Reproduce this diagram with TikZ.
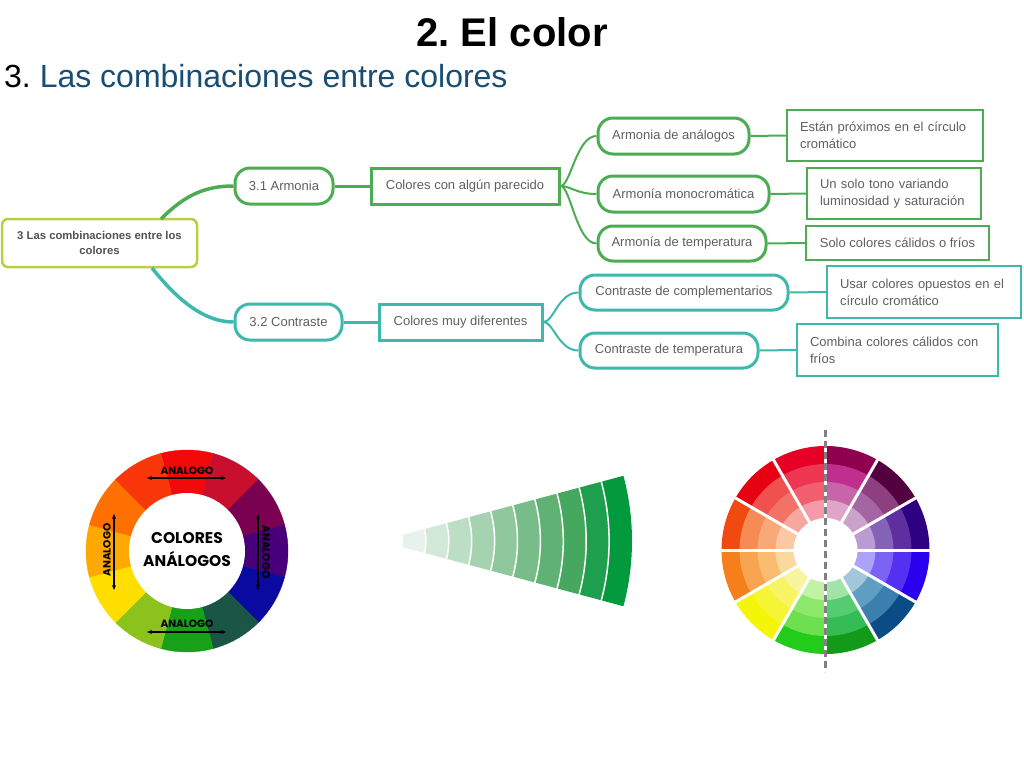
\documentclass[tikz,border=0pt]{standalone}
\usepackage{fontspec}
\setmainfont{Liberation Sans}
\newfontfamily\wheelfont{Poppins}
\usetikzlibrary{arrows.meta}
\definecolor{mmgreen}{RGB}{76,172,84}
\definecolor{mmteal}{RGB}{62,184,172}
\definecolor{mmroot}{RGB}{186,206,62}
\definecolor{mmtext}{RGB}{95,95,95}
\definecolor{titleblue}{RGB}{24,78,116}
\definecolor{dashgray}{RGB}{128,128,128}
\frenchspacing
\begin{document}
\frenchspacing
\begin{tikzpicture}[x=1pt,y=-1pt,
  mm/.style={font=\fontsize{13}{17}\selectfont, text=mmtext},
  pill/.style={mm, draw, line width=3pt, rounded corners=15pt, minimum height=36pt, inner sep=0pt},
  sqbox/.style={mm, draw, line width=3pt, minimum height=36pt, inner sep=0pt},
  desc/.style={mm, draw, line width=2pt, inner xsep=13pt, inner ysep=0pt, align=left},
  thinlink/.style={line width=2pt},
  anal/.style={font=\wheelfont\fontsize{10.5}{12}\selectfont\bfseries, inner sep=0pt},
  dblarrow/.style={{Stealth[length=5pt,width=4pt]}-{Stealth[length=5pt,width=4pt]}, line width=1.1pt}
]
\useasboundingbox (0,0) rectangle (1024,768);

% titles
\node[anchor=base, inner sep=0pt, font=\fontsize{40}{48}\selectfont\bfseries] (title) at (512,47) {2. El color};
\node[anchor=base west, inner sep=0pt, font=\fontsize{32}{38}\selectfont] (sub) at (4,87) {3. \textcolor{titleblue}{Las combinaciones entre colores}};

% mind map nodes
\node[draw=mmroot, line width=2.5pt, rounded corners=6pt, minimum width=195pt, minimum height=48pt, align=center, inner sep=0pt,
      font=\fontsize{11.3}{15}\selectfont\bfseries, text=mmtext!85!black] (root) at (99.5,243) {3 Las combinaciones entre los\\colores};
\node[pill, draw=mmgreen, minimum width=98pt] (a31) at (284,186) {3.1 Armonia};
\node[sqbox, draw=mmgreen, minimum width=188pt] (cap) at (465,186) {Colores con algún parecido};
\node[pill, draw=mmgreen, minimum width=151pt] (an1) at (673.5,136) {Armonia de análogos};
\node[pill, draw=mmgreen, minimum width=171pt] (an2) at (683.5,194) {Armonía monocromática};
\node[pill, draw=mmgreen, minimum width=168pt, minimum height=35pt] (an3) at (682,243.5) {Armonía de temperatura};
\node[desc, draw=mmgreen, text width=170pt, minimum height=51pt] (d1) at (885,135.5) {Están próximos en el círculo\\cromático};
\node[desc, draw=mmgreen, text width=148pt, minimum height=51pt] (d2) at (894,193.5) {Un solo tono variando\\luminosidad y saturación};
\node[mm, draw=mmgreen, line width=2pt, inner sep=0pt, minimum width=183pt, minimum height=34pt] (d3) at (897.5,243) {Solo colores cálidos o fríos};
\node[pill, draw=mmteal, minimum width=107pt] (c32) at (288.5,322) {3.2 Contraste};
\node[sqbox, draw=mmteal, minimum width=163pt] (cmd) at (460.5,322) {Colores muy diferentes};
\node[pill, draw=mmteal, minimum width=208pt, minimum height=35pt] (ct1) at (684,292.5) {Contraste de complementarios};
\node[pill, draw=mmteal, minimum width=178pt, minimum height=35pt] (ct2) at (669,350.5) {Contraste de temperatura};
\node[desc, draw=mmteal, text width=168pt, minimum height=52pt] (d4) at (924,292) {Usar colores opuestos en el\\círculo cromático};
\node[desc, draw=mmteal, text width=175pt, minimum height=52pt] (d5) at (897.5,350) {Combina colores cálidos con\\fríos};

% connectors
\coordinate (rtop) at (161,219);
\coordinate (rbot) at (152,268);
\draw[mmgreen, line width=3.5pt] (rtop) .. controls (185,195) and (205,186) .. (a31.west);
\draw[mmteal, line width=3.5pt] (rbot) .. controls (172,293) and (200,322) .. (c32.west);
\draw[mmgreen, line width=3pt] (a31.east) -- (cap.west);
\draw[mmteal, line width=3pt] (c32.east) -- (cmd.west);
\foreach \tgt in {an1,an2,an3}
  \draw[mmgreen, thinlink] (cap.east) .. controls +(10,0) and +(-20,0) .. (\tgt.west);
\foreach \tgt in {ct1,ct2}
  \draw[mmteal, thinlink] (cmd.east) .. controls +(10,0) and +(-20,0) .. (\tgt.west);
\draw[mmgreen, thinlink] (an1.east) -- (d1.west);
\draw[mmgreen, thinlink] (an2.east) -- (d2.west);
\draw[mmgreen, thinlink] (an3.east) -- (d3.west);
\draw[mmteal, thinlink] (ct1.east) -- (d4.west);
\draw[mmteal, thinlink] (ct2.east) -- (d5.west);

% left colour wheel
\begin{scope}[shift={(187,551)}, y=1pt]
  \foreach \ang/\hx in {90/F20A0A, 60/C8102E, 30/7A0050, 0/48007A, -30/0A0AA0, -60/1A5545, -90/18A018, -120/8CC21C, -150/FFDE00, 180/FFA800, 150/FF7000, 120/FA370A}{
    \definecolor{wc}{HTML}{\hx}
    \fill[wc, draw=wc, line width=0.4pt] (0,0) -- (\ang-15:101) arc[start angle=\ang-15, end angle=\ang+15, radius=101] -- cycle;
  }
  \fill[white] (0,0) circle[radius=58];
\end{scope}
\node[align=center, inner sep=0pt, font=\wheelfont\fontsize{15.5}{23}\selectfont\bfseries] (wt) at (187,550) {COLORES\\ANÁLOGOS};
\node[anal] (lt) at (187,471) {ANALOGO};
\node[anal] (lb) at (187,624) {ANALOGO};
\node[anal, rotate=90] (ll) at (107,550) {ANALOGO};
\node[anal, rotate=-90] (lr) at (266,552) {ANALOGO};
\coordinate (lt1) at (147,478); \coordinate (lt2) at (226,478);
\coordinate (lb1) at (147,632); \coordinate (lb2) at (226,632);
\coordinate (ll1) at (114,514); \coordinate (ll2) at (114,590);
\coordinate (lr1) at (258,514); \coordinate (lr2) at (258,590);
\draw[dblarrow] (lt1) -- (lt2);
\draw[dblarrow] (lb1) -- (lb2);
\draw[dblarrow] (ll1) -- (ll2);
\draw[dblarrow] (lr1) -- (lr2);

% green fan
\begin{scope}[shift={(380,541)}, y=1pt]
  \foreach \k/\hx in {9/039A3E, 8/1E9F4D, 7/46A75F, 6/60B274, 5/78BD89, 4/8FC89D, 3/A5D3B1, 2/BCDEC5, 1/D2E9D9, 0/E6F2EA}{
    \definecolor{fc}{HTML}{\hx}
    \pgfmathsetmacro\rin{23+22.9*\k}
    \pgfmathsetmacro\rout{23+22.9*(\k+1)}
    \fill[fc] (-15:\rin) arc[start angle=-15, end angle=15, radius=\rin] -- (15:\rout) arc[start angle=15, end angle=-15, radius=\rout] -- cycle;
  }
  \foreach \k in {1,...,9}{
    \pgfmathsetmacro\rad{23+22.9*\k}
    \draw[white, line width=1.5pt] (-16:\rad) arc[start angle=-16, end angle=16, radius=\rad];
  }
\end{scope}

% right colour wheel
\begin{scope}[shift={(825.5,550)}, y=1pt]
  \foreach \ang/\colA/\colB/\colC/\colD in {
     90/E60026/EE3552/F1606F/F59AA8,
    120/E50012/F0504E/F27266/F7A6A0,
    150/F04A10/F88A55/F9A877/FCC7A5,
    180/F57F1A/F8A552/F9BC72/FBD89E,
    210/F5F50A/F6F535/F7F565/F8F5A0,
    240/22CC1A/6EE050/8EE86C/C2F2A6,
    270/139A18/35BC55/55CC72/A2E4A8,
    300/0B4C86/3A7FAE/5E9EC2/A2C6DA,
    330/2A00EE/5430F2/7A62F2/ACA2F8,
      0/2E0082/5F2FA2/8462B8/BA9CD4,
     30/52003F/8E3F80/A565A2/CBA2CA,
     60/8F004F/BF2F8E/C864A8/E0A4C8}{
    \definecolor{ba}{HTML}{\colA}
    \definecolor{bb}{HTML}{\colB}
    \definecolor{bc}{HTML}{\colC}
    \definecolor{bd}{HTML}{\colD}
    \fill[ba] (0,0) -- (\ang:104) arc[start angle=\ang, end angle=\ang+30, radius=104] -- cycle;
    \fill[bb] (0,0) -- (\ang:86) arc[start angle=\ang, end angle=\ang+30, radius=86] -- cycle;
    \fill[bc] (0,0) -- (\ang:68) arc[start angle=\ang, end angle=\ang+30, radius=68] -- cycle;
    \fill[bd] (0,0) -- (\ang:50) arc[start angle=\ang, end angle=\ang+30, radius=50] -- cycle;
  }
  \fill[white] (0,0) circle[radius=32];
  \foreach \ang in {0,30,...,330}
    \draw[white, line width=3pt] (0,0) -- (\ang:106);
\end{scope}
\coordinate (dtop) at (825.5,430);
\coordinate (dbot) at (825.5,672);
\draw[dashgray, line width=2.5pt, dash pattern=on 7pt off 4pt] (dtop) -- (dbot);
\end{tikzpicture}
\end{document}
